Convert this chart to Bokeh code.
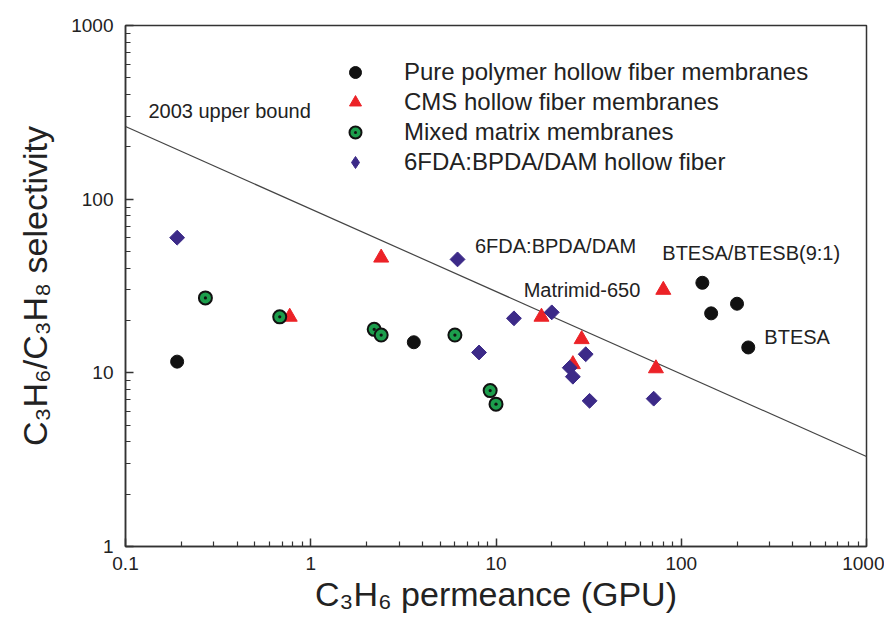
import numpy as np
from bokeh.plotting import figure
from bokeh.models import (Range1d, FixedTicker, CustomJSTickFormatter, Legend,
                          LegendItem, Label)
from bokeh.embed import file_html
from bokeh.resources import INLINE

# ---------------- data ----------------
pure_x = [0.19, 3.6, 130, 145, 200, 230]
pure_y = [11.6, 15.0, 33, 22, 25, 14]

cms_x = [0.77, 2.4, 17.6, 29, 26, 80, 73]
cms_y = [21, 46, 21, 15.6, 11.2, 30, 10.6]

mmm_x = [0.27, 0.68, 2.2, 2.4, 6.0, 9.3, 10.0]
mmm_y = [27, 21, 17.8, 16.5, 16.5, 7.9, 6.6]

hf_x = [0.19, 6.2, 8.1, 12.5, 20, 30.5, 25, 26, 32, 71]
hf_y = [60, 45, 13.1, 20.6, 22.3, 12.8, 10.7, 9.5, 6.9, 7.1]

bound_x = [0.1, 1000]
bound_y = [262, 3.3]

x_ticks = [0.1, 1, 10, 100, 1000]
y_ticks = [1, 10, 100, 1000]

ann_text = ["2003 upper bound", "6FDA:BPDA/DAM", "BTESA/BTESB(9:1)",
            "Matrimid-650", "BTESA"]
ann_x = [0.133, 7.7, 79, 14.1, 281]
ann_y = [320, 54, 49.3, 29.8, 16.0]

legend_labels = ["Pure polymer hollow fiber membranes", "CMS hollow fiber membranes",
                 "Mixed matrix membranes", "6FDA:BPDA/DAM hollow fiber"]

FONT = "Liberation Sans"
BLACK = "#111111"
RED = "#EC2227"
GREEN = "#1C9E4C"
PURPLE = "#3C2A88"

def minor(ticks):
    out = []
    for t in ticks[:-1]:
        out += [t * k for k in range(2, 10)]
    return out

p = figure(width=884, height=618, x_axis_type="log", y_axis_type="log",
           x_range=Range1d(0.1, 1000), y_range=Range1d(1, 1000),
           output_backend="svg", toolbar_location=None,
           min_border_left=125, min_border_top=25, min_border_right=18,
           min_border_bottom=72)
p.xgrid.visible = False
p.ygrid.visible = False
p.outline_line_color = "#333333"
p.outline_line_width = 1.5
p.background_fill_color = "white"
p.border_fill_color = "white"

p.xaxis.ticker = FixedTicker(ticks=x_ticks, minor_ticks=minor(x_ticks))
p.yaxis.ticker = FixedTicker(ticks=y_ticks, minor_ticks=minor(y_ticks))
for ax in (p.xaxis, p.yaxis):
    ax.formatter = CustomJSTickFormatter(code="return String(tick)")
    ax.major_tick_in = 8
    ax.major_tick_out = 0
    ax.minor_tick_in = 5
    ax.minor_tick_out = 0
    ax.axis_line_color = "#333333"
    ax.axis_line_width = 1.5
    ax.major_tick_line_color = "#333333"
    ax.minor_tick_line_color = "#333333"
    ax.major_tick_line_width = 1.5
    ax.minor_tick_line_width = 1.2
    ax.major_label_text_font = FONT
    ax.major_label_text_font_size = "19px"
    ax.major_label_text_color = "#222222"
    ax.axis_label_text_font = FONT
    ax.axis_label_text_font_size = "34px"
    ax.axis_label_text_font_style = "normal"
    ax.axis_label_text_color = "#222222"

p.xaxis.axis_label = "C₃H₆ permeance (GPU)"
p.yaxis.axis_label = "C₃H₆/C₃H₈ selectivity"
p.xaxis.major_label_standoff = 10
p.yaxis.major_label_standoff = 12
p.xaxis.axis_label_standoff = 2
p.yaxis.axis_label_standoff = 14

p.line(bound_x, bound_y, line_color="#444444", line_width=1.2)

r_pure = p.scatter(pure_x, pure_y, marker="circle", size=13, fill_color=BLACK,
                   line_color=BLACK)
r_cms = p.scatter(cms_x, cms_y, marker="triangle", size=15, fill_color=RED,
                  line_color=RED)
r_mmm = p.scatter(mmm_x, mmm_y, marker="circle_dot", size=13, fill_color=GREEN,
                  line_color=BLACK, line_width=2)
r_hf = p.scatter(hf_x, hf_y, marker="square", angle=np.pi / 4, size=10.5,
                 fill_color=PURPLE, line_color=PURPLE)
# hidden twin used only for the legend key (legend markers are never rotated)
r_hf_key = p.scatter(hf_x, hf_y, marker="diamond", fill_color=PURPLE,
                     line_color=PURPLE, visible=False)

for t, x, y in zip(ann_text, ann_x, ann_y):
    p.add_layout(Label(x=x, y=y, text=t, text_font=FONT, text_font_size="20px",
                       text_baseline="middle", text_align="left",
                       text_color="#222222"))

legend = Legend(items=[
    LegendItem(label=legend_labels[0], renderers=[r_pure]),
    LegendItem(label=legend_labels[1], renderers=[r_cms]),
    LegendItem(label=legend_labels[2], renderers=[r_mmm]),
    LegendItem(label=legend_labels[3], renderers=[r_hf_key]),
], location=(214, 369), orientation="vertical",
    border_line_alpha=0, background_fill_alpha=0, inactive_fill_alpha=0,
    label_text_font=FONT, label_text_font_size="24px", label_text_color="#222222",
    glyph_width=32, glyph_height=30, label_height=30, spacing=0, padding=0,
    margin=0, label_standoff=33)
p.add_layout(legend, "center")

open("out.html", "w").write(file_html(p, INLINE))
